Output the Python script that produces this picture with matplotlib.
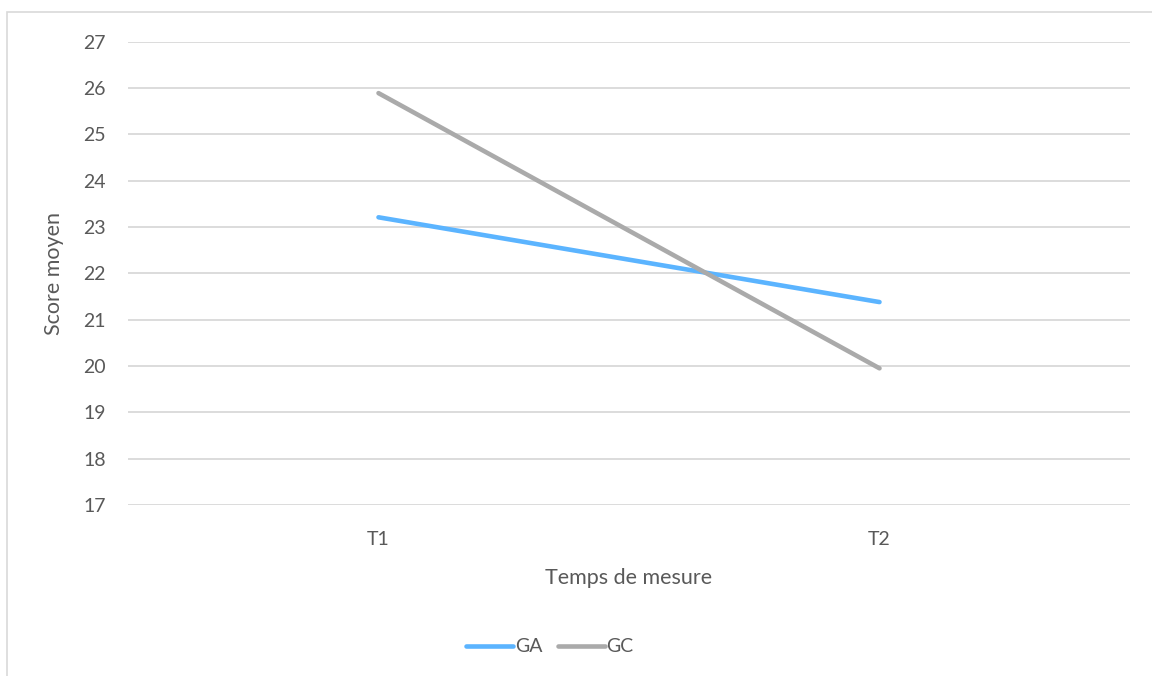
import matplotlib.pyplot as plt
from matplotlib.patches import Rectangle

# Mean score per measurement time
temps = ["T1", "T2"]
ga = [23.21, 21.38]
gc = [25.89, 19.95]

plt.rcParams['font.family'] = ['Lato', 'DejaVu Sans']
txt = "#595959"

fig = plt.figure(figsize=(11.52, 6.76), dpi=100)
ax = fig.add_axes([128 / 1152, 1 - 505 / 676, (1130 - 128) / 1152, (505 - 41.7) / 676])

x = range(len(temps))
ax.plot(x, ga, color="#5BB4FF", lw=3.3, solid_capstyle="round", label="GA")
ax.plot(x, gc, color="#AAAAAA", lw=3.3, solid_capstyle="round", label="GC")

ax.set_xlim(-0.5, 1.5)
ax.set_ylim(17, 27)
ax.set_yticks(range(17, 28))
ax.set_xticks(list(x))
ax.set_xticklabels(temps)
ax.grid(axis="y", color="#D9D9D9", lw=1.3)
ax.set_axisbelow(True)
for s in ax.spines.values():
    s.set_visible(False)
ax.tick_params(length=0, labelsize=14, colors=txt)
ax.tick_params(axis="y", pad=16)
ax.tick_params(axis="x", pad=19)

ax.set_xlabel("Temps de mesure", fontsize=15.5, color=txt, labelpad=14)
ax.set_ylabel("Score moyen", fontsize=15.5, color=txt, labelpad=14)

ax.legend(loc="center", bbox_to_anchor=(550 / 1152, 1 - 647 / 676), bbox_transform=fig.transFigure,
          ncol=2, frameon=False, fontsize=14, labelcolor=txt, handlelength=2.4,
          handletextpad=0.1, columnspacing=0.8)

# chart border
fig.patches.append(Rectangle((7 / 1152, -0.1), 1.2, 1 - 12 / 676 + 0.1, transform=fig.transFigure,
                             fill=False, edgecolor="#D9D9D9", lw=1.2))

fig.savefig("out.png", dpi=100)
